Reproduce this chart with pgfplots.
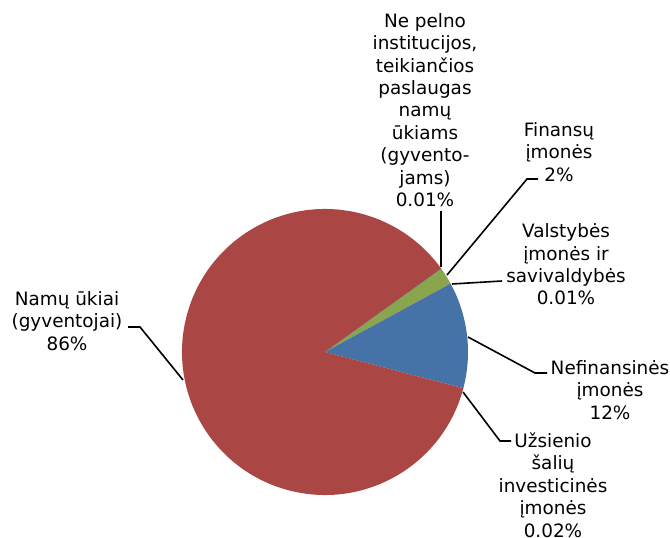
\documentclass[border=0pt]{standalone}
\usepackage{fontspec}
\setmainfont{DejaVu Sans}
\usepackage{pgfplots}
\pgfplotsset{compat=1.18}

\definecolor{pieblue}{HTML}{4572A7}
\definecolor{piered}{HTML}{AA4643}
\definecolor{piegreen}{HTML}{89A54E}
\definecolor{piepurple}{HTML}{71588F}
\definecolor{piecyan}{HTML}{4198AF}
\definecolor{pieorange}{HTML}{DB843D}

\newcommand{\lbl}{\fontsize{13.8}{16.8}\selectfont}

% one slice: value in percent, colour; slices go clockwise from \curang
\def\curang{35.8}
\newcommand{\slice}[2]{%
  \pgfmathsetmacro\nextang{\curang-3.6*#1}%
  \edef\doslice{\noexpand\fill[#2] (325,186) -- ++(\curang:107.25pt)
    arc[start angle=\curang, end angle=\nextang, radius=107.25pt] -- cycle;}%
  \doslice
  \xdef\curang{\nextang}}

\begin{document}
\begin{tikzpicture}
\useasboundingbox (0,0) rectangle (502.5pt,403.5pt);
\begin{axis}[
    at={(0,0)}, anchor=south west,
    scale only axis,
    width=502.5pt, height=403.5pt,
    xmin=0, xmax=670, ymin=0, ymax=538,
    hide axis,
    clip=false
]
    \slice{2}{piegreen}      % Finansų įmonės
    \slice{0.01}{pieorange}  % Valstybės įmonės ir savivaldybės
    \slice{12}{pieblue}      % Nefinansinės įmonės
    \slice{0.02}{piepurple}  % Užsienio šalių investicinės įmonės
    \slice{86}{piered}       % Namų ūkiai
    \slice{0.01}{piecyan}    % Ne pelno institucijos

    % leader lines
    \draw[line width=1.2pt] (441,327) -- (441,271);
    \draw[line width=1.2pt] (538,359) -- (527,359) -- (447,263);
    \draw[line width=1.2pt] (502,257) -- (452,254);
    \draw[line width=1.2pt] (547,165) -- (535,165) -- (468,201);
    \draw[line width=1.2pt] (511,97) -- (500,97) -- (463,146);
    \draw[line width=1.2pt] (128,211) -- (140,211) -- (183,158);

    % labels
    \node[align=center, font=\lbl] at (425,428) {Ne pelno\\institucijos,\\teikiančios\\paslaugas\\namų\\ūkiams\\(gyvento-\\jams)\\0.01\%};
    \node[align=center, font=\lbl] at (559,386) {Finansų\\įmonės\\2\%};
    \node[align=center, font=\lbl] at (566,273.5) {Valstybės\\įmonės ir\\savivaldybės\\0.01\%};
    \node[align=center, font=\lbl] at (610,148) {Nefinansinės\\įmonės\\12\%};
    \node[align=center, font=\lbl] at (553,53) {Užsienio\\šalių\\investicinės\\įmonės\\0.02\%};
    \node[align=center, font=\lbl] at (67,217) {Namų ūkiai\\(gyventojai)\\86\%};
\end{axis}
\end{tikzpicture}
\end{document}
